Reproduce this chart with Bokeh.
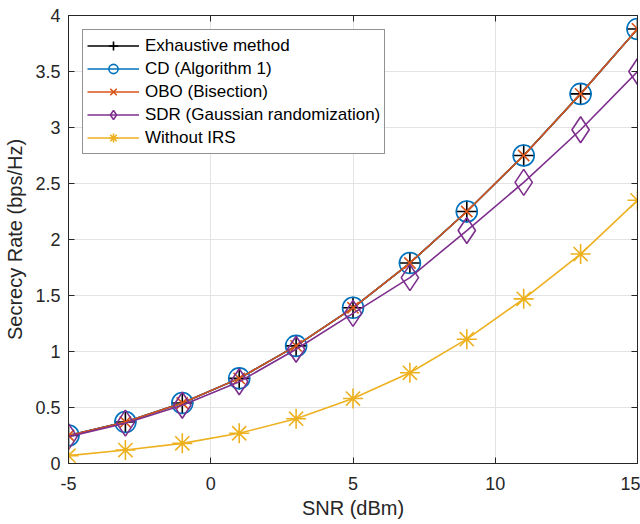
from bokeh.plotting import figure
from bokeh.models import LinearAxis, FixedTicker, Range1d, Legend, LegendItem, CustomJSTickFormatter
from bokeh.embed import file_html
from bokeh.resources import INLINE

snr = [-5, -3, -1, 1, 3, 5, 7, 9, 11, 13, 15]
exhaustive = [0.25, 0.37, 0.54, 0.76, 1.05, 1.39, 1.79, 2.25, 2.75, 3.30, 3.88]
cd = [0.25, 0.37, 0.54, 0.76, 1.05, 1.39, 1.79, 2.25, 2.75, 3.30, 3.88]
obo = [0.25, 0.37, 0.54, 0.76, 1.05, 1.39, 1.79, 2.25, 2.75, 3.30, 3.88]
sdr = [0.24, 0.36, 0.52, 0.73, 1.02, 1.34, 1.66, 2.08, 2.51, 2.98, 3.50]
no_irs = [0.07, 0.12, 0.18, 0.27, 0.40, 0.58, 0.81, 1.11, 1.47, 1.87, 2.35]
x_ticks = [-5, 0, 5, 10, 15]
y_ticks = [0, 0.5, 1, 1.5, 2, 2.5, 3, 3.5, 4]

FONT = "Liberation Sans"
TXT = "#262626"

p = figure(width=640, height=524, output_backend="svg", toolbar_location=None,
           x_range=Range1d(-5, 15), y_range=Range1d(0, 4),
           min_border_left=68, min_border_right=3, min_border_top=15, min_border_bottom=61)
p.outline_line_color = TXT
p.outline_line_width = 1

def style_axis(ax, ticks, show_labels=True):
    ax.ticker = FixedTicker(ticks=ticks)
    ax.major_tick_in = 6
    ax.major_tick_out = 0
    ax.minor_tick_line_color = None
    ax.axis_line_color = TXT
    ax.major_tick_line_color = TXT
    ax.major_label_text_font = FONT
    ax.major_label_text_color = TXT
    ax.major_label_text_font_size = "18px"
    if not show_labels:
        ax.formatter = CustomJSTickFormatter(code="return ''")
        ax.major_label_standoff = 0

style_axis(p.xaxis[0], x_ticks)
style_axis(p.yaxis[0], y_ticks)
p.xaxis[0].major_label_standoff = 13
p.xaxis[0].major_label_overrides = {-5: "-5"}
p.yaxis[0].major_label_standoff = 8
p.yaxis[0].major_label_overrides = {0: "0", 1: "1", 2: "2", 3: "3", 4: "4"}
p.xaxis[0].axis_label = "SNR (dBm)"
p.yaxis[0].axis_label = "Secrecy Rate (bps/Hz)"
for ax in (p.xaxis[0], p.yaxis[0]):
    ax.axis_label_text_font = FONT
    ax.axis_label_text_font_size = "20px"
    ax.axis_label_text_font_style = "normal"
    ax.axis_label_text_color = TXT
p.xaxis[0].axis_label_standoff = 4
p.yaxis[0].axis_label_standoff = 6

top = LinearAxis()
style_axis(top, x_ticks, show_labels=False)
p.add_layout(top, "above")
right = LinearAxis()
style_axis(right, y_ticks, show_labels=False)
p.add_layout(right, "right")

p.xgrid.ticker = FixedTicker(ticks=x_ticks)
p.ygrid.ticker = FixedTicker(ticks=y_ticks)
for g in (p.xgrid[0], p.ygrid[0]):
    g.grid_line_color = "#e3e3e3"
    g.grid_line_width = 1

LW = 1.6
items = []
c = "#000000"
l1 = p.line(snr, exhaustive, line_color=c, line_width=LW)
m1 = p.scatter(snr, exhaustive, marker="cross", size=22, line_color=c, line_width=LW)
items.append(LegendItem(label="Exhaustive method", renderers=[l1, m1]))
c = "#0072BD"
l2 = p.line(snr, cd, line_color=c, line_width=LW)
m2 = p.scatter(snr, cd, marker="circle", size=21, line_color=c, fill_color=None, line_width=LW)
items.append(LegendItem(label="CD (Algorithm 1)", renderers=[l2, m2]))
c = "#D95319"
l3 = p.line(snr, obo, line_color=c, line_width=LW)
m3 = p.scatter(snr, obo, marker="x", size=16, line_color=c, line_width=LW)
items.append(LegendItem(label="OBO (Bisection)", renderers=[l3, m3]))
c = "#7E2F8E"
l4 = p.line(snr, sdr, line_color=c, line_width=LW)
m4 = p.scatter(snr, sdr, marker="diamond", size=26, line_color=c, fill_color=None, line_width=LW)
items.append(LegendItem(label="SDR (Gaussian randomization)", renderers=[l4, m4]))
c = "#EDB120"
l5 = p.line(snr, no_irs, line_color=c, line_width=LW)
m5 = p.scatter(snr, no_irs, marker="asterisk", size=20, line_color=c, line_width=LW)
items.append(LegendItem(label="Without IRS", renderers=[l5, m5]))

legend = Legend(items=items, location="top_left", margin=14, padding=4, spacing=0,
                glyph_width=52, glyph_height=23, label_height=23,
                label_text_font=FONT, label_text_font_size="17px", label_text_color="#000000",
                label_standoff=6,
                border_line_color=TXT, border_line_width=1, background_fill_alpha=1)
p.add_layout(legend, "center")

open("out.html", "w").write(file_html(p, INLINE))
